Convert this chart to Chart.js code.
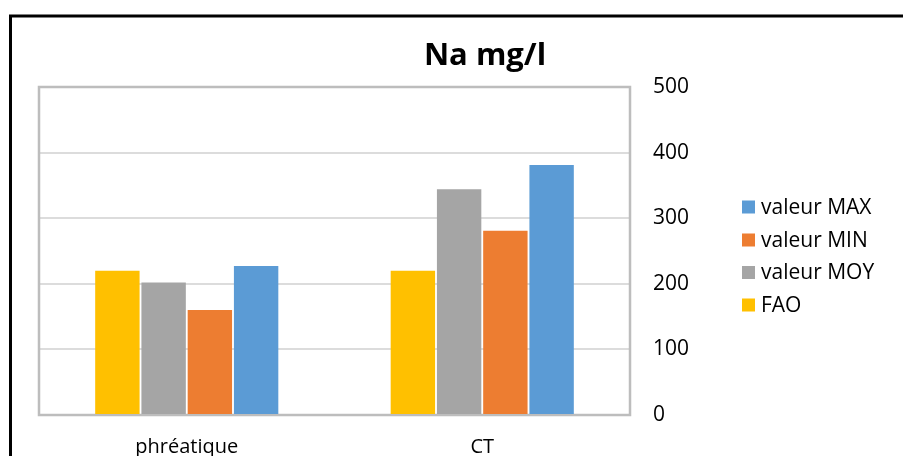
<!DOCTYPE html>
<html>
<head>
<meta charset="utf-8">
<script src="https://cdn.jsdelivr.net/npm/chart.js@4/dist/chart.umd.min.js"></script>
<style>
  html, body { margin: 0; padding: 0; background: #ffffff; }
  #wrap { width: 903px; height: 456px; position: relative; }
</style>
</head>
<body>
<div id="wrap"><canvas id="c" width="903" height="456"></canvas></div>
<script>
// Sodium concentration (mg/l) by aquifer
const categories = ['phréatique', 'CT'];
const faoValues = [220, 220];
const moyValues = [202, 344];
const minValues = [160, 281];
const maxValues = [227, 381];
const yTicks = [0, 100, 200, 300, 400, 500];
const titleText = 'Na mg/l';

const FONT = "'Open Sans', sans-serif";

// Outer frame and plot border
const framePlugin = {
  id: 'frame',
  beforeDraw(chart) {
    const ctx = chart.ctx;
    ctx.save();
    ctx.fillStyle = '#ffffff';
    ctx.fillRect(0, 0, chart.width, chart.height);
    ctx.strokeStyle = '#000000';
    ctx.lineWidth = 3;
    ctx.beginPath();
    ctx.moveTo(10.5, chart.height + 5);
    ctx.lineTo(10.5, 16);
    ctx.lineTo(chart.width + 5, 16);
    ctx.stroke();
    ctx.restore();
  },
  beforeDatasetsDraw(chart) {
    const a = chart.chartArea;
    const ctx = chart.ctx;
    ctx.save();
    ctx.strokeStyle = '#bdbdbd';
    ctx.lineWidth = 2.5;
    ctx.strokeRect(a.left, a.top, a.right - a.left, a.bottom - a.top);
    ctx.restore();
  }
};

// Title and legend drawn in fixed spots beside the plot
const sidePlugin = {
  id: 'side',
  afterDraw(chart) {
    const ctx = chart.ctx;
    ctx.save();
    ctx.fillStyle = '#000000';
    ctx.font = "bold 31px " + FONT;
    ctx.textAlign = 'center';
    ctx.textBaseline = 'alphabetic';
    ctx.fillText(titleText, 485, 65);

    const ds = chart.data.datasets.slice().reverse();
    const rowY = [207, 240, 272.5, 305];
    ctx.font = "21px " + FONT;
    ctx.textAlign = 'left';
    ctx.textBaseline = 'middle';
    ds.forEach((d, i) => {
      ctx.fillStyle = d.backgroundColor;
      ctx.fillRect(742, rowY[i] - 6.5, 13, 13);
      ctx.fillStyle = '#000000';
      ctx.fillText(d.label, 761, rowY[i] + 1);
    });
    ctx.restore();
  }
};

new Chart(document.getElementById('c'), {
  type: 'bar',
  data: {
    labels: categories,
    datasets: [
      { label: 'FAO', data: faoValues, backgroundColor: '#FFC000' },
      { label: 'valeur MOY', data: moyValues, backgroundColor: '#A5A5A5' },
      { label: 'valeur MIN', data: minValues, backgroundColor: '#ED7D31' },
      { label: 'valeur MAX', data: maxValues, backgroundColor: '#5B9BD5' }
    ]
  },
  options: {
    responsive: false,
    animation: false,
    devicePixelRatio: 1,
    layout: { padding: { left: 39, top: 87, right: 0, bottom: 0 } },
    datasets: {
      bar: { categoryPercentage: 0.626, barPercentage: 0.96 }
    },
    plugins: {
      legend: { display: false },
      title: { display: false },
      tooltip: { enabled: false }
    },
    scales: {
      x: {
        grid: { display: false },
        border: { display: false },
        ticks: {
          color: '#000000',
          font: { family: FONT, size: 20 },
          padding: 12
        },
        afterFit(scale) { scale.height = 41; }
      },
      y: {
        position: 'right',
        min: 0,
        max: 500,
        afterBuildTicks(scale) { scale.ticks = yTicks.map(v => ({ value: v })); },
        grid: { color: '#dcdcdc', lineWidth: 2, drawTicks: false },
        border: { display: false },
        ticks: {
          color: '#000000',
          font: { family: FONT, size: 21 },
          padding: 23
        },
        afterFit(scale) { scale.width = 273; }
      }
    }
  },
  plugins: [framePlugin, sidePlugin]
});
</script>
</body>
</html>
